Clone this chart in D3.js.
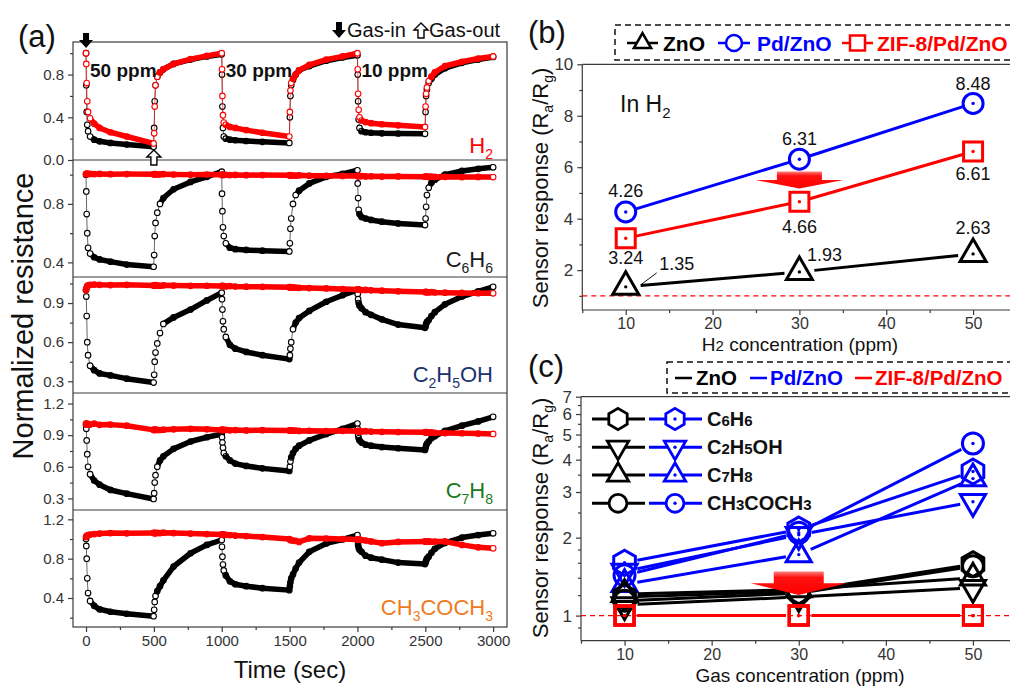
<!DOCTYPE html>
<html><head><meta charset="utf-8">
<script src="https://cdn.jsdelivr.net/npm/d3@7/dist/d3.min.js"></script>
<style>
body{margin:0;background:#fff;}
svg{display:block;font-family:"Liberation Sans",Arial,Helvetica,sans-serif;}
</style></head><body>
<svg id="fig" width="1010" height="686"></svg>
<script>
// ---------------- DATA (panel a) ----------------
const timeSec = [0,
 2,5,9,15,30,60,100,180,300,498,
 502,506,512,525,545,570,645,770,890,1000,
 1002,1005,1009,1015,1030,1060,1100,1180,1300,1498,
 1502,1506,1512,1525,1545,1570,1645,1770,1890,2000,
 2002,2005,2009,2015,2030,2060,2100,2180,2300,2498,
 2502,2506,2512,2525,2545,2570,2645,2770,2890,3000];

const h2ZnO = [1.0, 0.7,0.45,0.33,0.27,0.22,0.19,0.175,0.16,0.145,0.125, 0.3,0.55,0.7,0.78,0.82,0.85,0.9,0.94,0.97,0.99, 0.8,0.5,0.3,0.22,0.2,0.19,0.185,0.178,0.17,0.16, 0.4,0.6,0.7,0.75,0.8,0.84,0.88,0.93,0.96,0.98, 0.8,0.55,0.38,0.3,0.27,0.26,0.255,0.25,0.248,0.245, 0.45,0.6,0.66,0.72,0.76,0.8,0.86,0.91,0.94,0.965];
const h2ZIF = [1.0, 0.9,0.72,0.55,0.45,0.39,0.34,0.3,0.26,0.22,0.155, 0.25,0.5,0.7,0.78,0.82,0.85,0.9,0.945,0.975,1.0, 0.85,0.6,0.42,0.35,0.33,0.31,0.3,0.28,0.255,0.22, 0.45,0.65,0.72,0.76,0.8,0.84,0.89,0.94,0.97,1.0, 0.85,0.62,0.47,0.4,0.37,0.355,0.345,0.335,0.325,0.31, 0.5,0.62,0.68,0.74,0.78,0.82,0.88,0.92,0.95,0.97];
const c6ZnO = [1.0, 0.885,0.73,0.6,0.5,0.46,0.435,0.42,0.405,0.385,0.37, 0.45,0.58,0.67,0.74,0.8,0.84,0.9,0.95,0.985,1.02, 0.87,0.75,0.64,0.58,0.53,0.5,0.49,0.485,0.48,0.475, 0.53,0.63,0.7,0.8,0.86,0.89,0.94,0.985,1.005,1.03, 0.94,0.84,0.76,0.73,0.71,0.7,0.69,0.678,0.666,0.655, 0.7,0.78,0.86,0.91,0.945,0.965,1.0,1.025,1.04,1.05];
const c6ZIF = [1.005, 1.006,1.004,1.005,1.006,1.005,1.004,1.005,1.003,1.004,1.002, 1.003,1.002,1.003,1.001,1.002,1.003,1.001,1.0,1.001,0.999, 0.998,1.0,0.999,0.998,0.999,0.997,0.998,0.996,0.997,0.995, 0.996,0.994,0.995,0.994,0.993,0.995,0.993,0.992,0.991,0.992, 0.991,0.99,0.991,0.989,0.99,0.988,0.989,0.987,0.988,0.986, 0.987,0.985,0.986,0.985,0.986,0.984,0.985,0.983,0.984,0.983];
const c2ZnO = [1.0, 0.95,0.8,0.6,0.5,0.42,0.385,0.36,0.345,0.32,0.29, 0.35,0.45,0.52,0.59,0.67,0.74,0.79,0.85,0.92,0.98, 0.93,0.85,0.76,0.7,0.64,0.58,0.55,0.525,0.5,0.47, 0.5,0.55,0.6,0.7,0.75,0.785,0.84,0.91,0.96,1.0, 0.97,0.93,0.9,0.88,0.86,0.83,0.81,0.775,0.735,0.71, 0.72,0.74,0.755,0.77,0.8,0.83,0.89,0.95,0.99,1.025];
const c2ZIF = [1.0, 1.01,1.02,1.03,1.035,1.04,1.042,1.04,1.038,1.04,1.035, 1.036,1.034,1.037,1.035,1.033,1.036,1.034,1.032,1.033,1.031, 1.03,1.032,1.029,1.031,1.028,1.03,1.027,1.026,1.025,1.022, 1.02,1.022,1.019,1.02,1.018,1.017,1.015,1.012,1.008,1.005, 1.004,1.006,1.003,1.002,1.0,1.001,0.998,0.995,0.99,0.985, 0.984,0.986,0.983,0.982,0.984,0.981,0.98,0.978,0.976,0.975];
const c7ZnO = [1.0, 0.96,0.85,0.72,0.6,0.53,0.47,0.43,0.38,0.345,0.295, 0.35,0.45,0.52,0.6,0.66,0.7,0.77,0.84,0.88,0.91, 0.88,0.83,0.78,0.73,0.7,0.66,0.63,0.608,0.585,0.56, 0.6,0.65,0.69,0.73,0.77,0.8,0.85,0.91,0.96,1.01, 0.96,0.9,0.87,0.85,0.83,0.81,0.8,0.787,0.776,0.76, 0.78,0.8,0.82,0.84,0.87,0.89,0.94,0.99,1.03,1.074];
const c7ZIF = [1.01, 1.0,1.01,1.0,1.005,1.0,1.01,0.998,1.0,0.99,0.95, 0.952,0.948,0.953,0.95,0.949,0.952,0.955,0.96,0.955,0.95, 0.952,0.948,0.951,0.949,0.95,0.946,0.948,0.945,0.947,0.944, 0.945,0.942,0.946,0.943,0.944,0.94,0.942,0.939,0.941,0.938, 0.939,0.936,0.94,0.937,0.935,0.938,0.934,0.932,0.93,0.928, 0.927,0.925,0.928,0.924,0.926,0.922,0.92,0.918,0.915,0.912];
const acZnO = [1.0, 0.93,0.8,0.6,0.45,0.37,0.32,0.285,0.26,0.24,0.215, 0.28,0.36,0.42,0.47,0.52,0.58,0.72,0.855,0.94,0.99, 0.92,0.82,0.74,0.68,0.63,0.57,0.54,0.52,0.5,0.48, 0.52,0.56,0.6,0.64,0.7,0.76,0.87,0.955,0.995,1.04, 0.98,0.94,0.91,0.89,0.87,0.83,0.81,0.79,0.76,0.745, 0.76,0.78,0.8,0.82,0.86,0.9,0.96,1.015,1.04,1.058];
const acZIF = [1.02, 1.025,1.03,1.035,1.04,1.045,1.05,1.055,1.06,1.058,1.062, 1.06,1.063,1.058,1.062,1.06,1.064,1.06,1.055,1.05,1.045, 1.044,1.046,1.043,1.045,1.042,1.04,1.035,1.03,1.02,1.0, 0.995,0.99,0.988,0.985,0.98,0.97,1.007,1.005,1.0,0.995, 0.994,0.996,0.993,0.995,0.99,0.985,0.975,0.958,0.97,0.975, 0.974,0.976,0.973,0.975,0.972,0.974,0.975,0.94,0.915,0.905];

const gasNames = ["H2","C6H6","C2H5OH","C7H8","CH3COCH3"];
const gasColors = ["#ff0000","#1a1a1a","#1b3270","#1a7a1a","#f07a1e"];
const timeTicks = [0,500,1000,1500,2000,2500,3000];
const timeMinor = [250,750,1250,1750,2250,2750];
const cycleStart = [0,1000,2000];
const cycleLabels = ["50 ppm","30 ppm","10 ppm"];
const yTicksA = [[0,0.4,0.8],[0.4,0.8],[0.3,0.6,0.9],[0.3,0.6,0.9,1.2],[0.4,0.8,1.2]];
const yMinorA = [[0.2,0.6,1.0],[0.6,1.0],[0.45,0.75,1.05],[0.45,0.75,1.05],[0.2,0.6,1.0]];

// ---------------- DATA (panel b) ----------------
const concPpm = [10,30,50];
const h2RespZnO = [1.35,1.93,2.63];
const h2RespPd  = [4.26,6.31,8.48];
const h2RespZIF = [3.24,4.66,6.61];
const materials = ["ZnO","Pd/ZnO","ZIF-8/Pd/ZnO"];
const matColors = ["#000000","#0000ff","#ff0000"];
const concTicks = [10,20,30,40,50];
const concMinor = [5,15,25,35,45,55];
const yTicksB = [2,4,6,8,10];
const yMinorB = [1,3,5,7,9];

// ---------------- DATA (panel c) ----------------
const vocNames  = ["C6H6","C2H5OH","C7H8","CH3COCH3"];
const vocShapes = ["hex","tdown","tup","circle"];
const vocZnO = [[1.18,1.24,1.58],[1.10,1.18,1.28],[1.21,1.26,1.40],[1.14,1.22,1.55]];
const vocPd  = [[1.60,2.15,3.60],[1.48,2.05,2.75],[1.32,1.72,3.38],[1.43,2.09,4.62]];
const vocZIF = [[1,1,1],[1,1,1],[1,1,1],[1,1,1]];
const yTicksC = [1,2,3,4,5,6,7];
const yMinorC = [0.9,1.2,1.4,1.6,1.8,2.5,3.5,4.5,5.5,6.5];

// ---------------- helpers ----------------
const svg = d3.select("#fig");
const AX = "#3a3a3a";

function rich(sel, str, size, subSize, subDy){
  const t = sel.append("text").attr("font-size", size);
  let inSub = false;
  str.split(/(\d+)/).filter(s => s.length).forEach(s => {
    const num = /^\d+$/.test(s);
    const ts = t.append("tspan").text(s);
    if (num && !inSub){ ts.attr("font-size", subSize).attr("dy", subDy); inSub = true; }
    else if (!num && inSub){ ts.attr("dy", -subDy); inSub = false; }
  });
  return t;
}
function markerPts(type, R){
  if (type === "square") return [[-R,-R],[R,-R],[R,R],[-R,R]];
  const ang = type === "hex" ? [-90,-30,30,90,150,210] : type === "tup" ? [-90,30,150] : [90,210,330];
  return ang.map(a => [R*Math.cos(a*Math.PI/180), R*Math.sin(a*Math.PI/180)]);
}
function drawMarker(g, type, cx, cy, R, color, fill, dot, sw){
  if (type === "circle"){
    g.append("circle").attr("cx",cx).attr("cy",cy).attr("r",R)
      .attr("fill",fill).attr("stroke",color).attr("stroke-width",sw);
  } else {
    g.append("path").attr("d","M"+markerPts(type,R).map(p=>(cx+p[0])+","+(cy+p[1])).join("L")+"Z")
      .attr("fill",fill).attr("stroke",color).attr("stroke-width",sw).attr("stroke-linejoin","miter");
  }
  if (dot) g.append("circle").attr("cx",cx).attr("cy",cy).attr("r",1.7).attr("fill",color);
}
function gapSegs(pts, g){
  const out = [];
  for (let i=0;i<pts.length-1;i++){
    const [x1,y1] = pts[i], [x2,y2] = pts[i+1];
    const L = Math.hypot(x2-x1,y2-y1), ux=(x2-x1)/L, uy=(y2-y1)/L;
    out.push([[x1+ux*g,y1+uy*g],[x2-ux*g,y2-uy*g]]);
  }
  return out;
}
function styleAxis(g, fs){
  g.select(".domain").remove();
  g.selectAll(".tick line").attr("stroke",AX).attr("stroke-width",1.2);
  g.selectAll(".tick text").attr("fill","#333").attr("font-size",fs)
    .attr("font-family","'Liberation Sans',Arial,sans-serif");
}

// ---------------- PANEL (a) ----------------
const aL=73, aR=507, aT=42, aB=627;
const bounds = [42,160,277,393,510,627];
const domsA = [[0,1.105],[0.3,1.1],[0.21,1.1],[0.19,1.3],[0.105,1.295]];
const xA = d3.scaleLinear().domain([-96,3102]).range([aL,aR]);
const seriesA = [[h2ZnO,h2ZIF],[c6ZnO,c6ZIF],[c2ZnO,c2ZIF],[c7ZnO,c7ZIF],[acZnO,acZIF]];
const defs = svg.append("defs");

gasNames.forEach((gas, k) => {
  const top = bounds[k], bot = bounds[k+1];
  const y = d3.scaleLinear().domain(domsA[k]).range([bot, top]);
  defs.append("clipPath").attr("id","clipA"+k).append("rect")
    .attr("x",aL).attr("y",top).attr("width",aR-aL).attr("height",bot-top);
  const g = svg.append("g").attr("clip-path","url(#clipA"+k+")");
  ["#000000","#ff0000"].forEach((col, s) => {
    const pts = timeSec.map((t,i) => [xA(t), y(seriesA[k][s][i])]);
    const steep = [];
    for (let i=0;i<pts.length-1;i++){
      const dx = Math.abs(pts[i+1][0]-pts[i][0]), dy = Math.abs(pts[i+1][1]-pts[i][1]);
      steep.push(dy > 5 && dy > 2.5*dx);
    }
    // flat runs as thick bands
    let run = [pts[0]];
    const runs = [];
    for (let i=0;i<steep.length;i++){
      if (!steep[i]) { run.push(pts[i+1]); }
      else { if (run.length>1) runs.push(run); run = [pts[i+1]]; }
    }
    if (run.length>1) runs.push(run);
    runs.forEach(r => g.append("path").datum(r).attr("d", d3.line())
      .attr("fill","none").attr("stroke",col).attr("stroke-width",5.5)
      .attr("stroke-linejoin","round").attr("stroke-linecap","round"));
    steep.forEach((st,i) => { if (st) g.append("line")
      .attr("x1",pts[i][0]).attr("y1",pts[i][1]).attr("x2",pts[i+1][0]).attr("y2",pts[i+1][1])
      .attr("stroke",col).attr("stroke-width",1).attr("stroke-opacity",0.6); });
    pts.forEach((p,i) => {
      const hollow = (i>0 && steep[i-1]) || (i<steep.length && steep[i]) || i===pts.length-1;
      g.append("circle").attr("cx",p[0]).attr("cy",p[1]).attr("r",2.8)
        .attr("fill", hollow ? "#fff" : "none").attr("stroke",col).attr("stroke-width",1.1);
    });
  });
  const ax = svg.append("g").attr("transform",`translate(${aL},0)`)
    .call(d3.axisLeft(y).tickValues(yTicksA[k]).tickSize(5).tickPadding(4).tickFormat(d3.format(".1f")));
  styleAxis(ax, 15);
  const axm = svg.append("g").attr("transform",`translate(${aL},0)`)
    .call(d3.axisLeft(y).tickValues(yMinorA[k]).tickSize(3).tickFormat(""));
  styleAxis(axm, 15);
  rich(svg, gas, 22, 14, 6).attr("x", 493).attr("y", [153,267,382,498,615][k])
    .attr("text-anchor","end").attr("fill", gasColors[k]);
  if (k > 0) svg.append("line").attr("x1",aL).attr("x2",aR).attr("y1",top).attr("y2",top)
    .attr("stroke",AX).attr("stroke-width",1.2);
});
svg.append("rect").attr("x",aL).attr("y",aT).attr("width",aR-aL).attr("height",aB-aT)
  .attr("fill","none").attr("stroke",AX).attr("stroke-width",1.2);
const axA = svg.append("g").attr("transform",`translate(0,${aB})`)
  .call(d3.axisBottom(xA).tickValues(timeTicks).tickSize(5).tickPadding(3).tickFormat(d3.format("d")));
styleAxis(axA, 15);
const axAm = svg.append("g").attr("transform",`translate(0,${aB})`)
  .call(d3.axisBottom(xA).tickValues(timeMinor).tickSize(3).tickFormat(""));
styleAxis(axAm, 15);

cycleStart.forEach((t,i) => {
  svg.append("text").attr("x", xA(t)+4).attr("y", 77).attr("font-size",19)
    .attr("font-weight","bold").attr("fill","#111").text(cycleLabels[i]);
});
svg.append("text").attr("x",18).attr("y",47).attr("font-size",31).attr("fill","#111").text("(a)");
svg.append("text").attr("transform","translate(33,316) rotate(-90)").attr("text-anchor","middle")
  .attr("font-size",29).attr("fill","#111").text("Normalized resistance");
svg.append("text").attr("x",290).attr("y",678).attr("text-anchor","middle")
  .attr("font-size",24).attr("fill","#111").text("Time (sec)");

// arrows (annotations)
function downArrow(cx, y0, y1){
  const hb = y1 - 8;
  svg.append("path").attr("d",`M${cx-3},${y0}L${cx+3},${y0}L${cx+3},${hb}L${cx+7},${hb}L${cx},${y1}L${cx-7},${hb}L${cx-3},${hb}Z`)
    .attr("fill","#000");
}
function upArrowHollow(cx, y0, y1){
  const hb = y0 + 7;
  svg.append("path").attr("d",`M${cx},${y0}L${cx+7},${hb}L${cx+3},${hb}L${cx+3},${y1}L${cx-3},${y1}L${cx-3},${hb}L${cx-7},${hb}Z`)
    .attr("fill","#fff").attr("stroke","#000").attr("stroke-width",1.4);
}
downArrow(xA(cycleStart[0]), 33, 48);
upArrowHollow(xA(500), 150, 165);
downArrow(339, 22, 38);
svg.append("text").attr("x",347).attr("y",37).attr("font-size",20).attr("fill","#111").text("Gas-in");
upArrowHollow(421, 23, 38);
svg.append("text").attr("x",429).attr("y",37).attr("font-size",20).attr("fill","#111").text("Gas-out");

// ---------------- PANEL (b) ----------------
const bL=582.3, bT=64.3, bB=310;
const xB = d3.scaleLinear().domain([5,55]).range([bL,1016.5]);
const yB = d3.scaleLinear().domain([0.45,10]).range([bB,bT]);
svg.append("line").attr("x1",bL).attr("x2",1010).attr("y1",bT).attr("y2",bT).attr("stroke",AX).attr("stroke-width",1.2);
svg.append("line").attr("x1",bL).attr("x2",1010).attr("y1",bB).attr("y2",bB).attr("stroke",AX).attr("stroke-width",1.2);
svg.append("line").attr("x1",bL).attr("x2",bL).attr("y1",bT).attr("y2",bB).attr("stroke",AX).attr("stroke-width",1.2);
svg.append("line").attr("x1",bL).attr("x2",1010).attr("y1",yB(1)).attr("y2",yB(1))
  .attr("stroke","#ff0000").attr("stroke-width",1.3).attr("stroke-dasharray","5,4");
let t1 = svg.append("g").attr("transform",`translate(${bL},0)`)
  .call(d3.axisLeft(yB).tickValues(yTicksB).tickSize(5).tickPadding(4).tickFormat(d3.format("d")));
styleAxis(t1,17);
t1 = svg.append("g").attr("transform",`translate(${bL},0)`).call(d3.axisLeft(yB).tickValues(yMinorB).tickSize(3).tickFormat(""));
styleAxis(t1,17);
t1 = svg.append("g").attr("transform",`translate(0,${bB})`)
  .call(d3.axisBottom(xB).tickValues(concTicks).tickSize(5).tickPadding(3).tickFormat(d3.format("d")));
styleAxis(t1,16);
t1 = svg.append("g").attr("transform",`translate(0,${bB})`).call(d3.axisBottom(xB).tickValues(concMinor).tickSize(3).tickFormat(""));
styleAxis(t1,16);

const seriesB = [h2RespZnO, h2RespPd, h2RespZIF];
const shapesB = ["tup","circle","square"];
const sizeB = [15, 10, 9.5];
seriesB.forEach((vals, s) => {
  const pts = concPpm.map((c,i) => [xB(c), yB(vals[i])]);
  gapSegs(pts, s===0 ? 15 : 9).forEach(seg => {
    svg.append("line").attr("x1",seg[0][0]).attr("y1",seg[0][1]).attr("x2",seg[1][0]).attr("y2",seg[1][1])
      .attr("stroke",matColors[s]).attr("stroke-width",3);
  });
});
seriesB.forEach((vals, s) => {
  concPpm.forEach((c,i) => drawMarker(svg, shapesB[s], xB(c), yB(vals[i]), sizeB[s], matColors[s], "#fff", true, 3));
});
const fmt2 = d3.format(".2f");
const labOffB = [[[51,-17],[25,-11],[0,-20]], [[0,-15],[0,-14],[0,-13]], [[0,26],[0,31],[0,28.5]]];
seriesB.forEach((vals, s) => {
  concPpm.forEach((c,i) => {
    const o = labOffB[s][i];
    svg.append("text").attr("x", xB(c)+o[0]).attr("y", yB(vals[i])+o[1]).attr("text-anchor","middle")
      .attr("font-size",18).attr("fill","#111").text(fmt2(vals[i]));
  });
});
svg.append("line").attr("x1",xB(10)+15).attr("y1",yB(h2RespZnO[0])-2).attr("x2",xB(10)+31).attr("y2",yB(h2RespZnO[0])-14)
  .attr("stroke","#111").attr("stroke-width",1);
rich(svg, "In H2", 23, 15, 6).attr("x",620).attr("y",112).attr("fill","#111");
svg.append("text").attr("x",528).attr("y",43).attr("font-size",31).attr("fill","#111").text("(b)");
function respLabel(cy){
  const t = svg.append("text").attr("transform",`translate(548,${cy}) rotate(-90)`).attr("text-anchor","middle")
    .attr("font-size",22).attr("fill","#111");
  t.append("tspan").text("Sensor response (R");
  t.append("tspan").attr("font-size",14).attr("dy",5).text("a");
  t.append("tspan").attr("dy",-5).text("/R");
  t.append("tspan").attr("font-size",14).attr("dy",5).text("g");
  t.append("tspan").attr("dy",-5).text(")");
}
respLabel(188);
{
  const t = svg.append("text").attr("x",800).attr("y",351).attr("text-anchor","middle").attr("font-size",19).attr("fill","#111");
  t.append("tspan").text("H");
  t.append("tspan").attr("font-size",15).text("2");
  t.append("tspan").text(" concentration (ppm)");
}
// legend (b)
svg.append("rect").attr("x",615).attr("y",25).attr("width",420).attr("height",35)
  .attr("fill","none").attr("stroke","#111").attr("stroke-width",1.5).attr("stroke-dasharray","6,4");
const legBx = [[627,658,663],[718,750,757],[842,873,877]];
materials.forEach((m, s) => {
  const [x1,x2,tx] = legBx[s];
  svg.append("line").attr("x1",x1).attr("x2",x2).attr("y1",43).attr("y2",43).attr("stroke",matColors[s]).attr("stroke-width",2.5);
  drawMarker(svg, shapesB[s], (x1+x2)/2, 43, s===0?10:s===1?8:7.5, matColors[s], "#fff", false, 2.5);
  svg.append("text").attr("x",tx).attr("y",50.5).attr("font-size",21).attr("font-weight","bold")
    .attr("fill",matColors[s]).text(m);
});
function redArrow(cx, yTop, yHead, yTip, bw, hw){
  svg.append("path").attr("d",`M${cx-bw},${yTop}L${cx+bw},${yTop}L${cx+bw},${yHead}L${cx+hw},${yHead}L${cx},${yTip}L${cx-hw},${yHead}L${cx-bw},${yHead}Z`)
    .attr("fill","url(#redGrad)");
}
const grad = defs.append("linearGradient").attr("id","redGrad").attr("x1",0).attr("y1",0).attr("x2",0).attr("y2",1);
grad.append("stop").attr("offset","0").attr("stop-color","#ff8080");
grad.append("stop").attr("offset","0.25").attr("stop-color","#ff1010");
grad.append("stop").attr("offset","1").attr("stop-color","#ff0000");
redArrow(xB(30), 171.5, 180, 188.5, 22.5, 44);

// ---------------- PANEL (c) ----------------
const cL=581, cT=396.7, cB=640.7;
const xC = d3.scaleLinear().domain([5,55]).range([cL,1016.5]);
const yC = d3.scaleLog().domain([0.8,7]).range([cB,cT]);
svg.append("line").attr("x1",cL).attr("x2",1010).attr("y1",cT).attr("y2",cT).attr("stroke",AX).attr("stroke-width",1.2);
svg.append("line").attr("x1",cL).attr("x2",1010).attr("y1",cB).attr("y2",cB).attr("stroke",AX).attr("stroke-width",1.2);
svg.append("line").attr("x1",cL).attr("x2",cL).attr("y1",cT).attr("y2",cB).attr("stroke",AX).attr("stroke-width",1.2);
svg.append("line").attr("x1",cL).attr("x2",1010).attr("y1",yC(1)).attr("y2",yC(1))
  .attr("stroke","#ff0000").attr("stroke-width",1.3).attr("stroke-dasharray","5,4");
t1 = svg.append("g").attr("transform",`translate(${cL},0)`)
  .call(d3.axisLeft(yC).tickValues(yTicksC).tickSize(5).tickPadding(4).tickFormat(d3.format("d")));
styleAxis(t1,17);
t1 = svg.append("g").attr("transform",`translate(${cL},0)`).call(d3.axisLeft(yC).tickValues(yMinorC).tickSize(3).tickFormat(""));
styleAxis(t1,17);
t1 = svg.append("g").attr("transform",`translate(0,${cB})`)
  .call(d3.axisBottom(xC).tickValues(concTicks).tickSize(5).tickPadding(3).tickFormat(d3.format("d")));
styleAxis(t1,16);
t1 = svg.append("g").attr("transform",`translate(0,${cB})`).call(d3.axisBottom(xC).tickValues(concMinor).tickSize(3).tickFormat(""));
styleAxis(t1,16);

const sizeC = {hex:12.5, tup:14.5, tdown:14.5, circle:10.5, square:9.5};
function drawVoc(set, color, dot, shapeOverride){
  set.forEach((vals) => {
    const pts = concPpm.map((c,i) => [xC(c), yC(vals[i])]);
    gapSegs(pts, 13).forEach(seg => {
      svg.append("line").attr("x1",seg[0][0]).attr("y1",seg[0][1]).attr("x2",seg[1][0]).attr("y2",seg[1][1])
        .attr("stroke",color).attr("stroke-width",3);
    });
  });
  set.forEach((vals, gi) => {
    const shp = shapeOverride || vocShapes[gi];
    concPpm.forEach((c,i) => drawMarker(svg, shp, xC(c), yC(vals[i]), sizeC[shp], color, "none", dot, 3));
  });
}
drawVoc(vocPd, matColors[1], true);
drawVoc(vocZnO, matColors[0], false);
drawVoc(vocZIF, matColors[2], true, "square");
redArrow(xC(30), 571.5, 583.3, 595, 25, 48);

const legRows = [419, 447.3, 475, 503.3];
vocNames.forEach((v, i) => {
  const y = legRows[i], shp = vocShapes[i];
  svg.append("line").attr("x1",592).attr("x2",645).attr("y1",y).attr("y2",y).attr("stroke","#000").attr("stroke-width",3);
  drawMarker(svg, shp, 618, y, sizeC[shp]*0.85, "#000", "#fff", false, 2.8);
  svg.append("line").attr("x1",649).attr("x2",702).attr("y1",y).attr("y2",y).attr("stroke","#0000ff").attr("stroke-width",3);
  drawMarker(svg, shp, 675, y, sizeC[shp]*0.85, "#0000ff", "#fff", true, 2.8);
  rich(svg, v, 20, 15, 0).attr("x",707).attr("y",y+7).attr("font-weight","bold").attr("fill","#111");
});
svg.append("rect").attr("x",667).attr("y",362).attr("width",360).attr("height",31)
  .attr("fill","none").attr("stroke","#111").attr("stroke-width",1.5).attr("stroke-dasharray","6,4");
const legCx = [[675,692,696],[750,767,770],[855,872,875]];
materials.forEach((m, s) => {
  const [x1,x2,tx] = legCx[s];
  svg.append("line").attr("x1",x1).attr("x2",x2).attr("y1",378).attr("y2",378).attr("stroke",matColors[s]).attr("stroke-width",2.5);
  svg.append("text").attr("x",tx).attr("y",385).attr("font-size",20.5).attr("font-weight","bold")
    .attr("fill",matColors[s]).text(m);
});
svg.append("text").attr("x",528).attr("y",377).attr("font-size",31).attr("fill","#111").text("(c)");
respLabel(518);
svg.append("text").attr("x",800).attr("y",682).attr("text-anchor","middle").attr("font-size",19).attr("fill","#111")
  .text("Gas concentration (ppm)");
</script>
</body></html>
